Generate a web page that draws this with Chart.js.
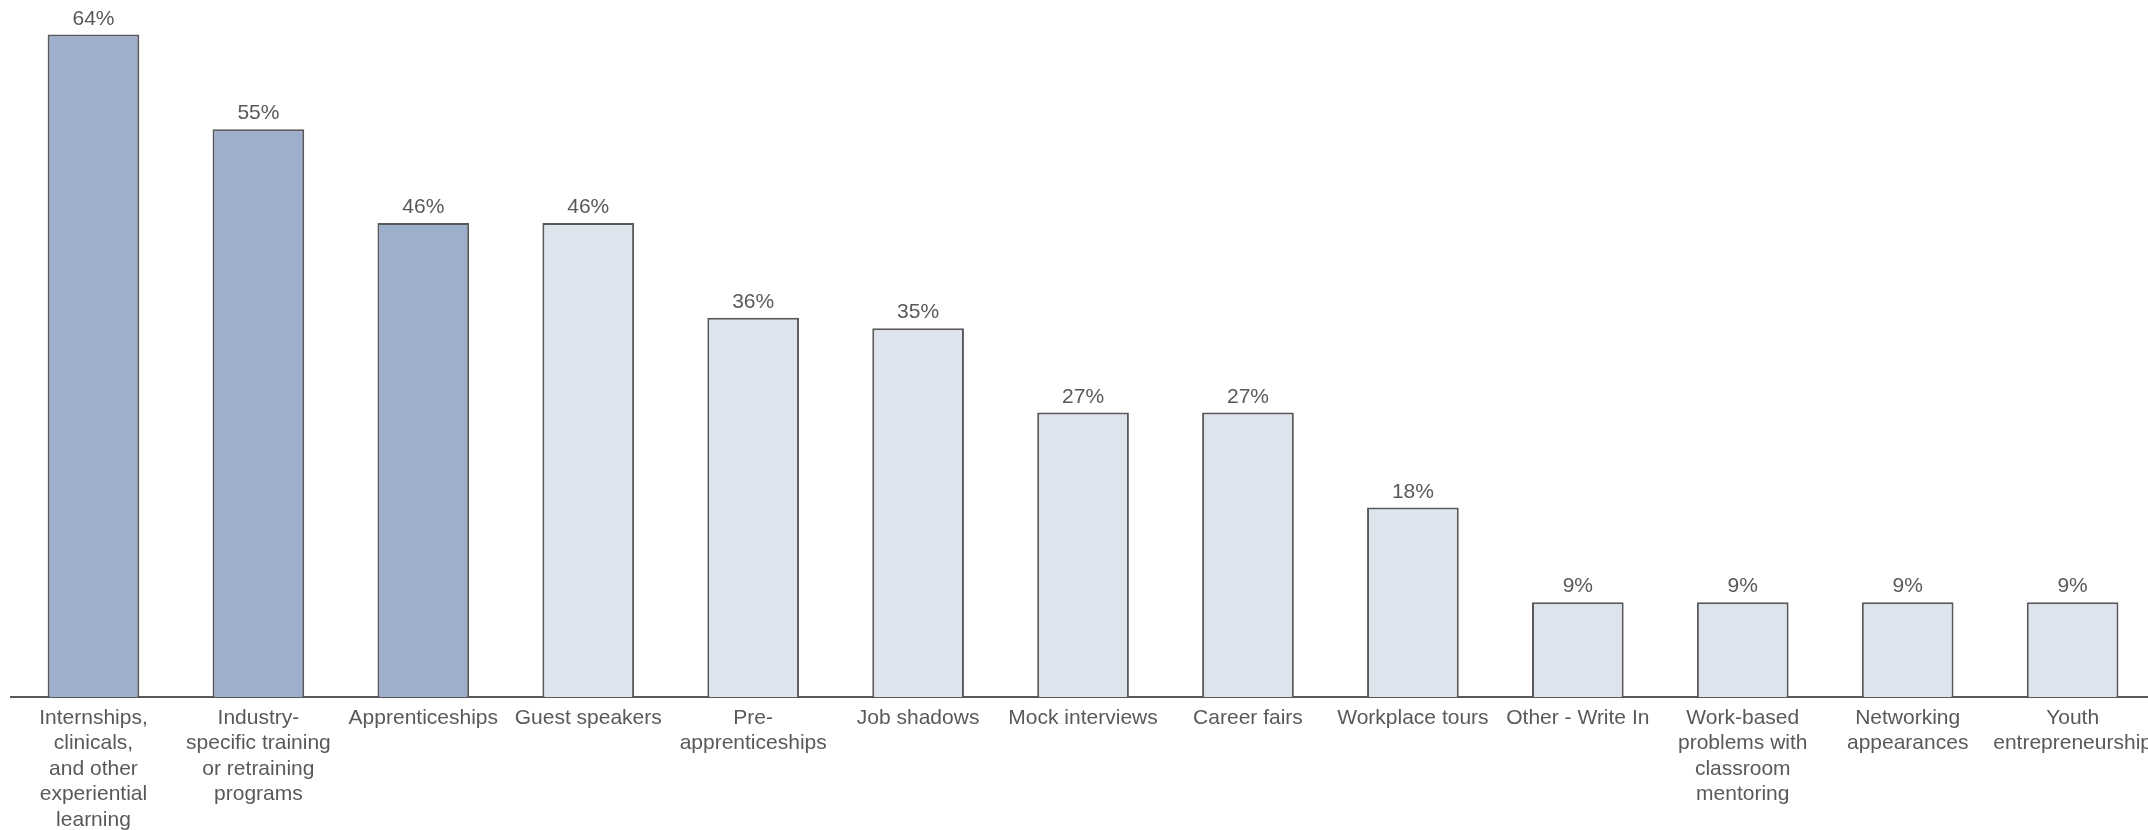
<!DOCTYPE html>
<html>
<head>
<meta charset="utf-8">
<title>Work-based learning activities</title>
<script src="https://cdn.jsdelivr.net/npm/chart.js@4.4.1/dist/chart.umd.min.js"></script>
<style>
  html, body { margin: 0; padding: 0; background: #fff; overflow: hidden; }
  #wrap { width: 2160px; height: 830px; }
</style>
</head>
<body>
<div id="wrap"><canvas id="chart" width="2160" height="830"></canvas></div>
<script>
/* ── Data ─────────────────────────────────── */
const categories = [
  ['Internships,', 'clinicals,', 'and other', 'experiential', 'learning'],
  ['Industry-', 'specific training', 'or retraining', 'programs'],
  'Apprenticeships',
  'Guest speakers',
  ['Pre-', 'apprenticeships'],
  'Job shadows',
  'Mock interviews',
  'Career fairs',
  'Workplace tours',
  'Other - Write In',
  ['Work-based', 'problems with', 'classroom', 'mentoring'],
  ['Networking', 'appearances'],
  ['Youth', 'entrepreneurship'],
];
// share of respondents, % (labels show the rounded value)
const shares = [63.6, 54.5, 45.5, 45.5, 36.4, 35.4, 27.3, 27.3, 18.2, 9.1, 9.1, 9.1, 9.1];
const highlighted = 3; // first N bars drawn in the darker blue

/* ── Styles ───────────────────────────────── */
const FONT  = '"Liberation Sans", Arial, sans-serif';
const GREY  = '#595959';
const DARK  = '#9dafcd';
const LIGHT = '#dee4ee';

const valueLabels = {
  id: 'valueLabels',
  afterDatasetsDraw(chart) {
    const { ctx } = chart;
    const meta = chart.getDatasetMeta(0);
    ctx.save();
    ctx.font = '21px ' + FONT;
    ctx.fillStyle = GREY;
    ctx.textAlign = 'center';
    ctx.textBaseline = 'bottom';
    meta.data.forEach((bar, i) => {
      ctx.fillText(Math.round(shares[i]) + '%', bar.x, bar.y - 5);
    });
    ctx.restore();
  },
};

new Chart(document.getElementById('chart'), {
  type: 'bar',
  data: {
    labels: categories,
    datasets: [{
      data: shares,
      backgroundColor: shares.map((_, i) => i < highlighted ? DARK : LIGHT),
      borderColor: GREY,
      borderWidth: 2,
      barPercentage: 0.556,
      categoryPercentage: 1,
    }],
  },
  options: {
    responsive: false,
    animation: false,
    layout: { padding: { left: 11, right: 0, top: 0, bottom: 0 } },
    plugins: { legend: { display: false }, tooltip: { enabled: false } },
    scales: {
      y: { display: false, min: 0, max: 66.9 },
      x: {
        grid: { display: false, drawTicks: false },
        border: { display: true, color: GREY, width: 2 },
        ticks: {
          autoSkip: false, maxRotation: 0, minRotation: 0,
          padding: 8,
          color: GREY,
          font: { family: FONT, size: 21, lineHeight: 1.22 },
        },
        afterFit: (scale) => { scale.height = 133; },
      },
    },
  },
  plugins: [valueLabels],
});
</script>
</body>
</html>
